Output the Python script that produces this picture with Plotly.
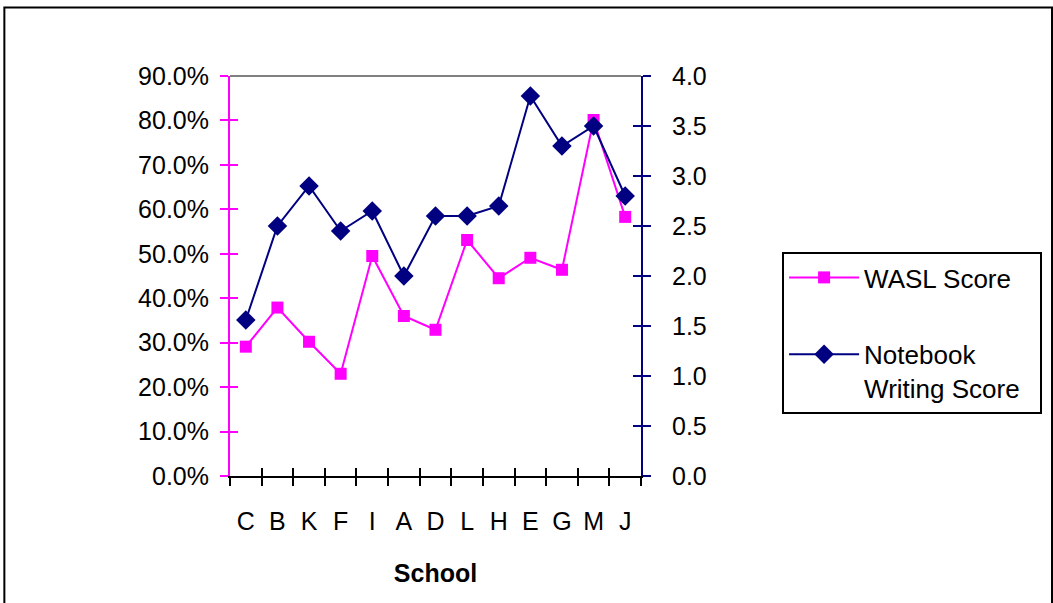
import plotly.graph_objects as go

schools = ["C", "B", "K", "F", "I", "A", "D", "L", "H", "E", "G", "M", "J"]
wasl = [0.291, 0.379, 0.302, 0.230, 0.495, 0.360, 0.329, 0.531, 0.445, 0.491, 0.464, 0.801, 0.583]
notebook = [1.56, 2.50, 2.90, 2.45, 2.65, 2.00, 2.60, 2.60, 2.70, 3.80, 3.30, 3.50, 2.80]

MAG = "#FF00FF"
NAVY = "#000080"
FONT = "Liberation Sans, Arial, sans-serif"
PAD = "\u00a0\u00a0"

fig = go.Figure()
fig.add_trace(go.Scatter(
    x=schools, y=wasl, name="WASL Score" + PAD, mode="lines+markers",
    line=dict(color=MAG, width=2),
    marker=dict(symbol="square", size=12, color=MAG),
    xaxis="x", yaxis="y", legendgroup="a",
))
fig.add_trace(go.Scatter(
    x=schools, y=notebook, name="Notebook<br>Writing Score" + PAD, mode="lines+markers",
    line=dict(color=NAVY, width=2),
    marker=dict(symbol="diamond", size=15, color=NAVY),
    xaxis="x", yaxis="y2", legendgroup="b",
))
# invisible helper traces so the inside-tick overlay axes are drawn
fig.add_trace(go.Scatter(x=schools, y=wasl, mode="lines", line=dict(width=0), opacity=0,
                         showlegend=False, hoverinfo="skip", xaxis="x3", yaxis="y3"))
fig.add_trace(go.Scatter(x=schools, y=notebook, mode="lines", line=dict(width=0), opacity=0,
                         showlegend=False, hoverinfo="skip", xaxis="x3", yaxis="y4"))

tickfont = dict(family=FONT, size=25, color="black")

fig.update_layout(
    width=1053, height=603,
    margin=dict(l=230, r=411, t=76, b=127),
    paper_bgcolor="white", plot_bgcolor="white",
    font=dict(family=FONT, size=25, color="black"),
    showlegend=True,
    legend=dict(
        x=1.34, y=0.56, xanchor="left", yanchor="top",
        bordercolor="black", borderwidth=2, bgcolor="white",
        font=dict(family=FONT, size=26, color="black"),
        traceorder="grouped", tracegroupgap=40, valign="top",
        itemwidth=70,
    ),
    xaxis=dict(
        type="category", categoryorder="array", categoryarray=schools,
        range=[-0.5, 12.5], tickson="boundaries",
        ticks="outside", ticklen=8, tickwidth=2, tickcolor="black",
        showline=True, linecolor="black", linewidth=2,
        showgrid=False, zeroline=False, tickfont=tickfont,
        ticklabelstandoff=22,
        title=dict(text="<b>School</b>", font=dict(family=FONT, size=25), standoff=30),
    ),
    xaxis3=dict(
        type="category", categoryorder="array", categoryarray=schools,
        range=[-0.5, 12.5], tickson="boundaries", overlaying="x", anchor="y",
        ticks="inside", ticklen=8, tickwidth=2, tickcolor="black",
        showline=False, showgrid=False, zeroline=False, showticklabels=False,
    ),
    yaxis=dict(
        range=[0, 0.9], dtick=0.1, tick0=0, tickformat=".1%",
        ticks="outside", ticklen=8, tickwidth=2, tickcolor=MAG,
        showline=True, linecolor=MAG, linewidth=2,
        showgrid=False, zeroline=False, tickfont=tickfont, ticklabelstandoff=6,
    ),
    yaxis3=dict(
        range=[0, 0.9], dtick=0.1, tick0=0, overlaying="y", side="left", anchor="x",
        ticks="inside", ticklen=8, tickwidth=2, tickcolor=MAG,
        showline=False, showgrid=False, zeroline=False, showticklabels=False,
    ),
    yaxis2=dict(
        range=[0, 4], dtick=0.5, tick0=0, tickformat=".1f", overlaying="y", side="right", anchor="x",
        ticks="outside", ticklen=8, tickwidth=2, tickcolor=NAVY,
        showline=True, linecolor=NAVY, linewidth=2,
        showgrid=False, zeroline=False, tickfont=tickfont, ticklabelstandoff=16,
    ),
    yaxis4=dict(
        range=[0, 4], dtick=0.5, tick0=0, overlaying="y", side="right", anchor="x",
        ticks="inside", ticklen=8, tickwidth=2, tickcolor=NAVY,
        showline=False, showgrid=False, zeroline=False, showticklabels=False,
    ),
    shapes=[
        # plot-area top border (gray)
        dict(type="line", xref="paper", yref="paper", x0=0, x1=1, y0=1, y1=1,
             line=dict(color="#808080", width=2), layer="below"),
        # outer chart border
        dict(type="rect", xref="paper", yref="paper", x0=-0.549, x1=2.0, y0=-0.5, y1=1.171,
             line=dict(color="black", width=2), fillcolor="rgba(0,0,0,0)", layer="below"),
    ],
)

fig.write_html("out.html")
